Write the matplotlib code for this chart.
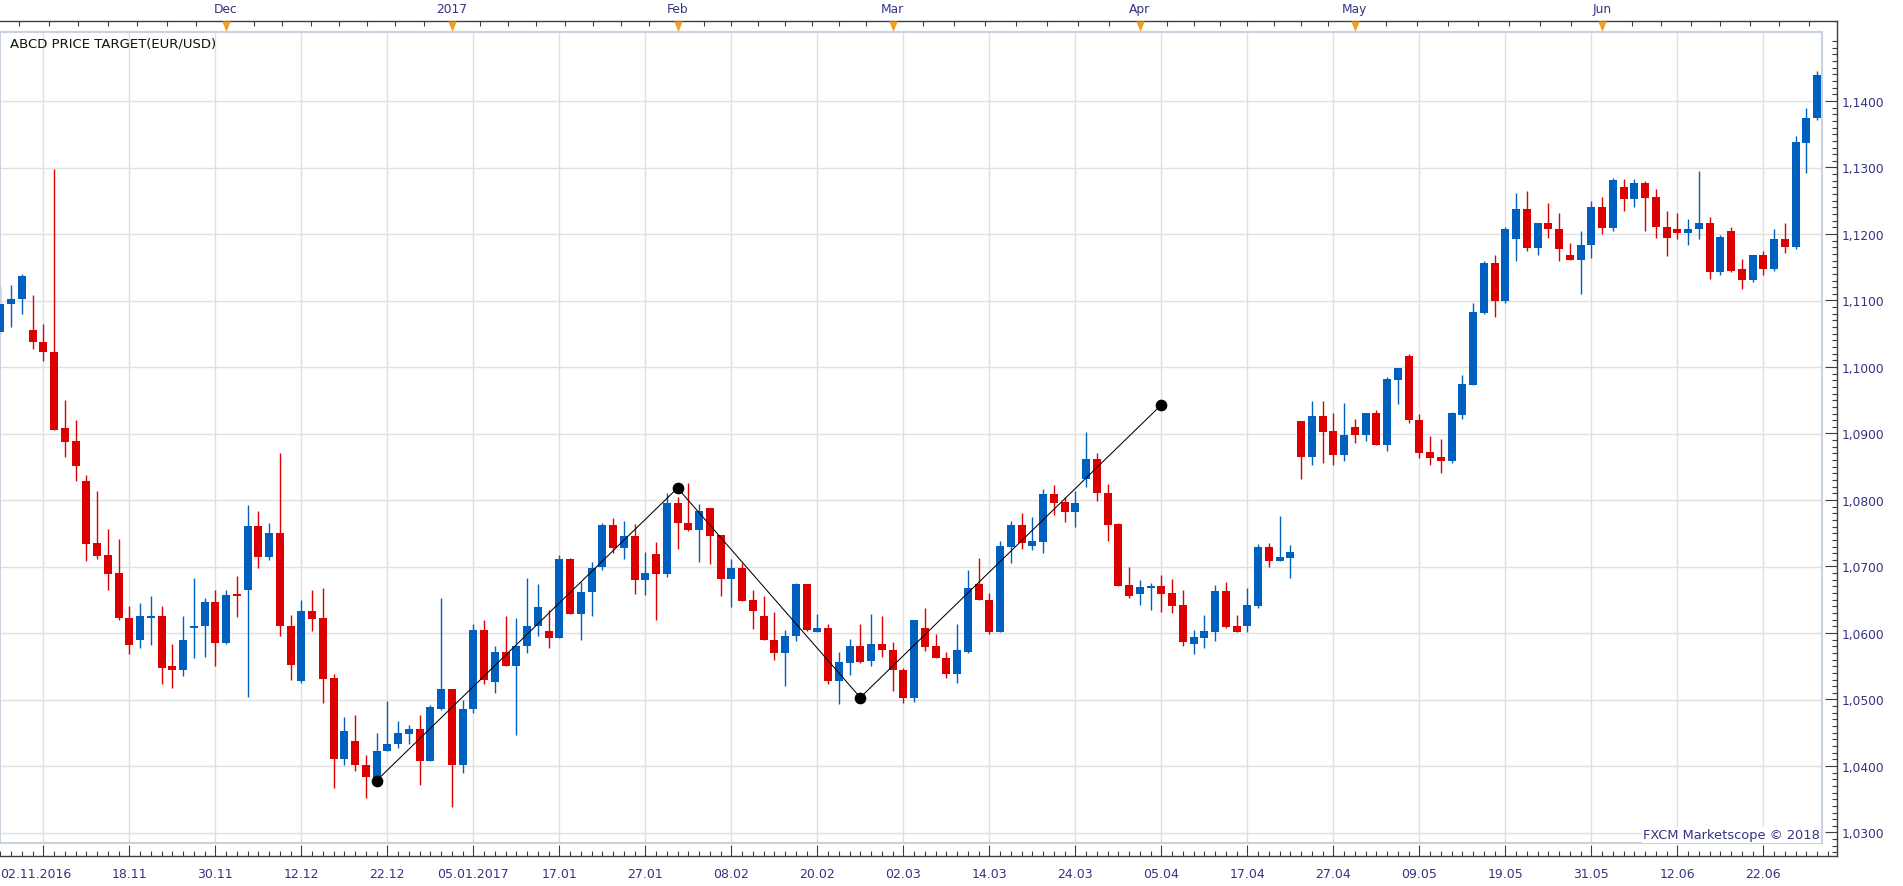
import numpy as np
import matplotlib
matplotlib.use("Agg")
import matplotlib.pyplot as plt
import matplotlib.transforms as mtransforms
from matplotlib.ticker import FixedLocator, FixedFormatter

plt.rcParams['font.family'] = ['DejaVu Sans']

# ---------------- data ----------------
first_index = -4
open_ = [
    1.1052, 1.1094, 1.1102, 1.1056,
    1.1038, 1.1023, 1.0908, 1.0888, 1.0829, 1.0735, 1.0717, 1.0690,
    1.0623, 1.0589, 1.0623, 1.0625, 1.0550, 1.0545, 1.0607, 1.0611,
    1.0647, 1.0585, 1.0658, 1.0664, 1.0761, 1.0714, 1.0751, 1.0611,
    1.0528, 1.0633, 1.0622, 1.0533, 1.0411, 1.0438, 1.0402, 1.0378,
    1.0422, 1.0433, 1.0448, 1.0456, 1.0407, 1.0486, 1.0516, 1.0402,
    1.0485, 1.0605, 1.0527, 1.0572, 1.0551, 1.0580, 1.0610, 1.0603,
    1.0593, 1.0711, 1.0628, 1.0661, 1.0700, 1.0762, 1.0728, 1.0746,
    1.0679, 1.0719, 1.0688, 1.0796, 1.0766, 1.0755, 1.0788, 1.0748,
    1.0681, 1.0697, 1.0649, 1.0625, 1.0590, 1.0570, 1.0595, 1.0673,
    1.0602, 1.0607, 1.0528, 1.0555, 1.0580, 1.0558, 1.0584, 1.0575,
    1.0545, 1.0502, 1.0608, 1.0580, 1.0563, 1.0538, 1.0572, 1.0674,
    1.0650, 1.0602, 1.0730, 1.0762, 1.0731, 1.0737, 1.0809, 1.0797,
    1.0782, 1.0832, 1.0861, 1.0811, 1.0764, 1.0672, 1.0658, 1.0668,
    1.0671, 1.0660, 1.0642, 1.0584, 1.0593, 1.0602, 1.0663, 1.0611,
    1.0611, 1.0641, 1.0729, 1.0709, 1.0713, 1.0919, 1.0864, 1.0926,
    1.0904, 1.0868, 1.0910, 1.0897, 1.0931, 1.0882, 1.0981, 1.1016,
    1.0921, 1.0872, 1.0864, 1.0859, 1.0928, 1.0973, 1.1081, 1.1157,
    1.1099, 1.1192, 1.1237, 1.1179, 1.1216, 1.1208, 1.1168, 1.1161,
    1.1183, 1.1241, 1.1209, 1.1270, 1.1252, 1.1276, 1.1255, 1.1211,
    1.1207, 1.1201, 1.1207, 1.1217, 1.1143, 1.1205, 1.1147, 1.1131,
    1.1168, 1.1148, 1.1193, 1.1180, 1.1337, 1.1374,
]
high = [
    1.1122, 1.1124, 1.1140, 1.1108,
    1.1064, 1.1297, 1.0951, 1.0921, 1.0837, 1.0814, 1.0757, 1.0742,
    1.0640, 1.0645, 1.0655, 1.0640, 1.0583, 1.0625, 1.0682, 1.0652,
    1.0664, 1.0665, 1.0686, 1.0793, 1.0783, 1.0765, 1.0871, 1.0627,
    1.0649, 1.0664, 1.0667, 1.0538, 1.0473, 1.0477, 1.0416, 1.0449,
    1.0498, 1.0467, 1.0462, 1.0477, 1.0492, 1.0653, 1.0516, 1.0499,
    1.0614, 1.0620, 1.0581, 1.0626, 1.0622, 1.0683, 1.0674, 1.0634,
    1.0717, 1.0713, 1.0676, 1.0707, 1.0766, 1.0773, 1.0768, 1.0764,
    1.0722, 1.0737, 1.0810, 1.0805, 1.0826, 1.0794, 1.0788, 1.0748,
    1.0711, 1.0705, 1.0664, 1.0655, 1.0631, 1.0605, 1.0675, 1.0673,
    1.0629, 1.0613, 1.0571, 1.0591, 1.0614, 1.0628, 1.0626, 1.0586,
    1.0548, 1.0620, 1.0637, 1.0599, 1.0572, 1.0613, 1.0695, 1.0713,
    1.0660, 1.0738, 1.0768, 1.0780, 1.0775, 1.0816, 1.0822, 1.0804,
    1.0814, 1.0903, 1.0870, 1.0824, 1.0766, 1.0699, 1.0679, 1.0675,
    1.0687, 1.0681, 1.0665, 1.0605, 1.0627, 1.0672, 1.0676, 1.0627,
    1.0668, 1.0734, 1.0735, 1.0776, 1.0733, 1.0919, 1.0949, 1.0949,
    1.0931, 1.0946, 1.0922, 1.0931, 1.0935, 1.0985, 1.0998, 1.1019,
    1.0930, 1.0896, 1.0892, 1.0932, 1.0988, 1.1096, 1.1160, 1.1169,
    1.1210, 1.1261, 1.1265, 1.1217, 1.1247, 1.1232, 1.1187, 1.1204,
    1.1250, 1.1255, 1.1284, 1.1282, 1.1282, 1.1280, 1.1267, 1.1234,
    1.1231, 1.1223, 1.1294, 1.1226, 1.1199, 1.1211, 1.1163, 1.1168,
    1.1175, 1.1207, 1.1217, 1.1348, 1.1389, 1.1445,
]
low = [
    1.1049, 1.1060, 1.1079, 1.1027,
    1.1009, 1.0905, 1.0865, 1.0829, 1.0708, 1.0712, 1.0664, 1.0620,
    1.0568, 1.0578, 1.0582, 1.0524, 1.0517, 1.0536, 1.0562, 1.0564,
    1.0551, 1.0583, 1.0624, 1.0504, 1.0698, 1.0710, 1.0596, 1.0529,
    1.0525, 1.0603, 1.0495, 1.0367, 1.0401, 1.0392, 1.0352, 1.0378,
    1.0422, 1.0427, 1.0433, 1.0372, 1.0407, 1.0484, 1.0339, 1.0389,
    1.0480, 1.0524, 1.0510, 1.0551, 1.0446, 1.0570, 1.0596, 1.0578,
    1.0593, 1.0628, 1.0589, 1.0625, 1.0694, 1.0720, 1.0711, 1.0658,
    1.0657, 1.0619, 1.0684, 1.0727, 1.0754, 1.0707, 1.0704, 1.0655,
    1.0639, 1.0648, 1.0606, 1.0589, 1.0559, 1.0520, 1.0588, 1.0603,
    1.0601, 1.0524, 1.0493, 1.0537, 1.0555, 1.0550, 1.0564, 1.0513,
    1.0494, 1.0496, 1.0573, 1.0562, 1.0532, 1.0525, 1.0570, 1.0649,
    1.0599, 1.0602, 1.0706, 1.0727, 1.0725, 1.0720, 1.0777, 1.0767,
    1.0760, 1.0820, 1.0799, 1.0738, 1.0671, 1.0652, 1.0642, 1.0634,
    1.0632, 1.0630, 1.0580, 1.0569, 1.0578, 1.0588, 1.0607, 1.0601,
    1.0602, 1.0637, 1.0700, 1.0709, 1.0683, 1.0832, 1.0852, 1.0855,
    1.0852, 1.0858, 1.0885, 1.0888, 1.0882, 1.0874, 1.0944, 1.0916,
    1.0863, 1.0853, 1.0840, 1.0855, 1.0922, 1.0973, 1.1080, 1.1075,
    1.1096, 1.1160, 1.1174, 1.1168, 1.1194, 1.1160, 1.1161, 1.1110,
    1.1164, 1.1200, 1.1204, 1.1234, 1.1240, 1.1204, 1.1194, 1.1167,
    1.1192, 1.1184, 1.1192, 1.1132, 1.1138, 1.1143, 1.1118, 1.1128,
    1.1139, 1.1145, 1.1171, 1.1178, 1.1291, 1.1372,
]
close = [
    1.1095, 1.1103, 1.1137, 1.1037,
    1.1022, 1.0906, 1.0887, 1.0851, 1.0734, 1.0716, 1.0689, 1.0622,
    1.0582, 1.0625, 1.0625, 1.0548, 1.0545, 1.0589, 1.0611, 1.0647,
    1.0585, 1.0657, 1.0655, 1.0761, 1.0714, 1.0751, 1.0611, 1.0552,
    1.0633, 1.0621, 1.0531, 1.0411, 1.0452, 1.0401, 1.0384, 1.0423,
    1.0433, 1.0449, 1.0456, 1.0407, 1.0488, 1.0516, 1.0402, 1.0486,
    1.0605, 1.0530, 1.0572, 1.0551, 1.0581, 1.0611, 1.0639, 1.0593,
    1.0711, 1.0628, 1.0662, 1.0698, 1.0762, 1.0728, 1.0746, 1.0679,
    1.0690, 1.0688, 1.0796, 1.0765, 1.0755, 1.0784, 1.0746, 1.0681,
    1.0697, 1.0648, 1.0633, 1.0589, 1.0570, 1.0596, 1.0673, 1.0605,
    1.0607, 1.0528, 1.0556, 1.0580, 1.0557, 1.0584, 1.0574, 1.0544,
    1.0502, 1.0620, 1.0579, 1.0562, 1.0538, 1.0574, 1.0668, 1.0649,
    1.0602, 1.0731, 1.0762, 1.0736, 1.0738, 1.0809, 1.0796, 1.0782,
    1.0795, 1.0861, 1.0811, 1.0763, 1.0671, 1.0655, 1.0669, 1.0671,
    1.0659, 1.0641, 1.0587, 1.0594, 1.0603, 1.0663, 1.0609, 1.0601,
    1.0642, 1.0729, 1.0709, 1.0714, 1.0722, 1.0864, 1.0926, 1.0903,
    1.0868, 1.0898, 1.0897, 1.0931, 1.0882, 1.0982, 1.0998, 1.0920,
    1.0871, 1.0863, 1.0859, 1.0931, 1.0974, 1.1082, 1.1157, 1.1099,
    1.1207, 1.1237, 1.1179, 1.1216, 1.1207, 1.1177, 1.1161, 1.1184,
    1.1241, 1.1209, 1.1281, 1.1252, 1.1276, 1.1254, 1.1210, 1.1194,
    1.1201, 1.1208, 1.1217, 1.1143, 1.1195, 1.1145, 1.1131, 1.1168,
    1.1148, 1.1192, 1.1180, 1.1338, 1.1375, 1.1439,
]

date_labels = ["02.11.2016", "18.11", "30.11", "12.12", "22.12", "05.01.2017",
               "17.01", "27.01", "08.02", "20.02", "02.03", "14.03", "24.03",
               "05.04", "17.04", "27.04", "09.05", "19.05", "31.05", "12.06",
               "22.06"]
date_label_every = 8

month_labels = ["Dec", "2017", "Feb", "Mar", "Apr", "May", "Jun"]
month_index = [17, 38, 59, 79, 102, 122, 145]
month_bounds = [-5, 17, 38, 59, 79, 102, 122, 145, 167]

abcd_index = [31, 59, 76, 104]
abcd_price = [1.0378, 1.0818, 1.0503, 1.0943]

price_ticks = [1.03, 1.04, 1.05, 1.06, 1.07, 1.08, 1.09, 1.10, 1.11, 1.12, 1.13, 1.14]

title = "ABCD PRICE TARGET(EUR/USD)"
credit = "FXCM Marketscope \u00a9 2018"

# ---------------- style / layout ----------------
W, H, DPI = 1903, 887, 100
X0_PX, STEP_PX = 43.3, 10.75          # pixel x of candle 0, pixel per candle
PY_REF, P_REF, PX_PER_UNIT = 102.0, 1.14, 6650.0
FRAME = (0, 33, 1822, 844)            # l, t, r, b  (pixels)
AXIS = (0, 22, 1837, 857)
BLUE, RED = "#0060c0", "#dd0000"
AXIS_COLOR = "#3c3c3c"
FRAME_COLOR = "#c9d3df"
GRID_COLOR = "#e0e0e0"
LABEL_COLOR = "#343480"
ORANGE = "#f5a020"
PT = 72.0 / DPI


def xi(px):
    return (px - X0_PX) / STEP_PX


def yp(py):
    return P_REF - (py - PY_REF) / PX_PER_UNIT


def rect(l, t, r, b):
    return [l / W, 1 - b / H, (r - l) / W, (b - t) / H]


fig = plt.figure(figsize=(W / DPI, H / DPI), dpi=DPI)
fig.patch.set_facecolor("white")

# ---- outer axis frame (dark axis lines + ticks) ----
axf = fig.add_axes(rect(*AXIS))
axf.set_xlim(xi(AXIS[0]), xi(AXIS[2]))
axf.set_ylim(yp(AXIS[3]), yp(AXIS[1]))
axf.patch.set_facecolor("white")
axf.spines["left"].set_visible(False)
for s in ("top", "right", "bottom"):
    axf.spines[s].set_color(AXIS_COLOR)
    axf.spines[s].set_linewidth(1.0)

axf.yaxis.tick_right()
axf.yaxis.set_major_locator(FixedLocator(price_ticks))
axf.yaxis.set_major_formatter(FixedFormatter(
    [f"{p:.4f}".replace(".", ",") for p in price_ticks]))
minor_prices = np.round(np.arange(1.027, 1.1495, 0.001), 4)
axf.yaxis.set_minor_locator(FixedLocator(minor_prices))
axf.tick_params(axis="y", which="major", direction="in", length=12 * PT,
                width=0.8, color=AXIS_COLOR, pad=3.5, labelsize=8.8,
                labelcolor=LABEL_COLOR, right=True, left=False,
                labelright=True, labelleft=False)
axf.tick_params(axis="y", which="minor", direction="in", length=5 * PT,
                width=0.8, color=AXIS_COLOR, right=True, left=False)

date_idx = [k * date_label_every for k in range(len(date_labels))]
axf.xaxis.set_major_locator(FixedLocator(date_idx))
axf.xaxis.set_major_formatter(FixedFormatter(date_labels))
lo, hi = axf.get_xlim()
axf.xaxis.set_minor_locator(FixedLocator(np.arange(np.ceil(lo), hi)))
axf.tick_params(axis="x", which="major", direction="in", length=11 * PT,
                width=0.8, color=AXIS_COLOR, pad=8, labelsize=9,
                labelcolor=LABEL_COLOR, bottom=True, top=False)
axf.tick_params(axis="x", which="minor", direction="in", length=5 * PT,
                width=0.8, color=AXIS_COLOR, bottom=True, top=False)

# ---- main plotting area ----
ax = fig.add_axes(rect(*FRAME))
ax.set_xlim(xi(FRAME[0]), xi(FRAME[2]))
ax.set_ylim(yp(FRAME[3]), yp(FRAME[1]))
ax.set_xticks(date_idx)
ax.set_yticks(price_ticks)
ax.tick_params(length=0, labelbottom=False, labelleft=False)
ax.grid(True, color=GRID_COLOR, linewidth=1.0)
ax.set_axisbelow(True)
for s in ax.spines.values():
    s.set_color(FRAME_COLOR)
    s.set_linewidth(1.5)

o = np.array(open_)
h = np.array(high)
l = np.array(low)
c = np.array(close)
idx = np.arange(first_index, first_index + len(c))
colors = np.where(c >= o, BLUE, RED)
ax.vlines(idx, l, h, colors=colors, linewidth=1.0, zorder=2)
body_h = np.maximum(np.abs(c - o), 0.0003)
ax.bar(idx, body_h, bottom=np.minimum(o, c), width=0.74, color=colors,
       linewidth=0, zorder=3)

ax.plot(abcd_index, abcd_price, color="black", linewidth=0.75, zorder=4)
ax.plot(abcd_index, abcd_price, linestyle="none", marker="o", markersize=7.4,
        color="black", zorder=5)

# ---- top month axis ----
axt = axf.twiny()
axt.set_xlim(axf.get_xlim())
for s in axt.spines.values():
    s.set_visible(False)
axt.xaxis.set_major_locator(FixedLocator(month_index))
axt.xaxis.set_major_formatter(FixedFormatter(month_labels))
top_ticks = np.concatenate([np.linspace(a, b, 9)[:-1]
                            for a, b in zip(month_bounds[:-1], month_bounds[1:])])
axt.xaxis.set_minor_locator(FixedLocator(top_ticks))
axt.tick_params(axis="x", which="both", direction="in", length=5 * PT,
                width=0.8, color=AXIS_COLOR, pad=4.5, labelsize=8.8,
                labelcolor=LABEL_COLOR, top=True, bottom=False)
tri = [(-0.4, 0.0), (0.4, 0.0), (0.0, -1.0)]
axt.plot(month_index, [1.0] * len(month_index),
         transform=axt.get_xaxis_transform(), linestyle="none", marker=tri,
         markersize=21 * PT, color=ORANGE, markeredgewidth=0, clip_on=False,
         zorder=5)

# first date label is kept inside the figure (left aligned at the edge)
first = axf.xaxis.get_major_ticks()[0].label1
first.set_horizontalalignment("left")
first.set_transform(first.get_transform() + mtransforms.ScaledTranslation(
    -X0_PX / DPI, 0, fig.dpi_scale_trans))

# ---- texts ----
fig.text(10 / W, 1 - 44 / H, title, ha="left", va="center", fontsize=9.5,
         color="#111111")
fig.text(1820 / W, 1 - 836 / H, credit, ha="right", va="center", fontsize=9.4,
         color=LABEL_COLOR,
         bbox=dict(facecolor="white", edgecolor="none", pad=1.0))

fig.savefig("out.png", dpi=DPI, facecolor="white")
